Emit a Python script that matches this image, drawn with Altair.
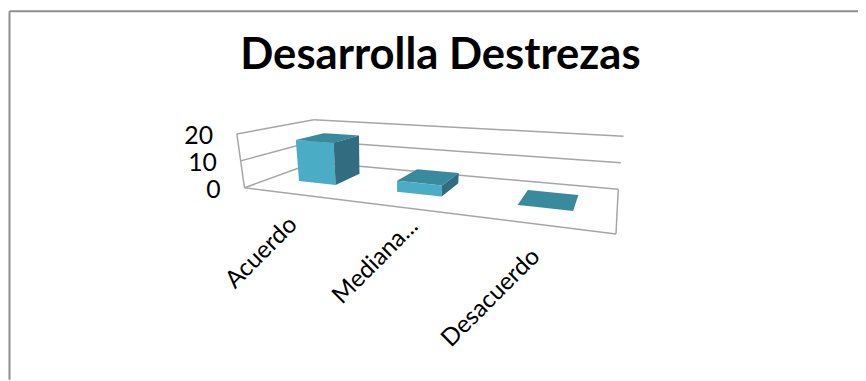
import altair as alt
import pandas as pd
import numpy as np

categories = ["Acuerdo", "Mediana...", "Desacuerdo"]
values = [16, 4, 0]
tick_values = [0, 10, 20]
title_text = "Desarrolla Destrezas"

FRONT, SIDE, TOP = "#4BACC6", "#316C80", "#3A8A9E"
GRID = "#A6A6A6"
FRAME = "#8E8E8E"
FONT = "Lato"

W, H = 857, 372
X0, Y0 = 9, 9
HMAX = 20

# perspective of the box: floor corners and wall height at each, in picture units
FL, FR, BR, BL = map(np.array, [(246.7, 187.7), (621.7, 234.3), (624.0, 189.3), (317.6, 162.0)])
UP_FL, UP_FR, UP_BR, UP_BL = map(np.array, [(-7.7, -54.3), (7.7, -65.0), (5.3, -53.6), (-0.9, -43.0)])


def homography(p0, p1, p2, p3):
    dx1, dy1 = p1 - p2
    dx2, dy2 = p3 - p2
    sx, sy = p0 - p1 + p2 - p3
    d = dx1 * dy2 - dx2 * dy1
    g = (sx * dy2 - dx2 * sy) / d
    h = (dx1 * sy - sx * dy1) / d
    return np.array([
        [p1[0] - p0[0] + g * p1[0], p3[0] - p0[0] + h * p3[0], p0[0]],
        [p1[1] - p0[1] + g * p1[1], p3[1] - p0[1] + h * p3[1], p0[1]],
        [g, h, 1.0],
    ])


M = homography(FL, FR, BR, BL)


def project(u, v, val=0.0):
    w = M @ np.array([u, v, 1.0])
    p = w[:2] / w[2]
    up = (1 - u) * (1 - v) * UP_FL + u * (1 - v) * UP_FR + u * v * UP_BR + (1 - u) * v * UP_BL
    return p + up * (val / HMAX)


def face_rows(name, color, pts):
    pts = [(float(p[0]), float(p[1])) for p in pts]
    xs = sorted({p[0] for p in pts})
    n = len(pts)
    rows = []
    for x in xs:
        ys = []
        for i in range(n):
            a, b = pts[i], pts[(i + 1) % n]
            lo, hi = min(a[0], b[0]), max(a[0], b[0])
            if lo <= x <= hi:
                if hi == lo:
                    ys += [a[1], b[1]]
                else:
                    ys.append(a[1] + (b[1] - a[1]) * (x - a[0]) / (b[0] - a[0]))
        rows.append(dict(face=name, part=color, x=x, y=min(ys), ylow=max(ys)))
    return rows


BAR_W, BAR_D0, BAR_D1 = 0.066, 0.34, 0.74
BAR_SHIFT = 0.005
face_data, line_data = [], []
n = len(categories)
for i, (c, val) in enumerate(zip(categories, values)):
    uc = (i + 0.5) / n + BAR_SHIFT
    u0, u1 = uc - BAR_W, uc + BAR_W
    f = [project(u0, BAR_D0, val), project(u1, BAR_D0, val), project(u1, BAR_D0), project(u0, BAR_D0)]
    s = [project(u1, BAR_D0, val), project(u1, BAR_D1, val), project(u1, BAR_D1), project(u1, BAR_D0)]
    t = [project(u0, BAR_D0, val), project(u1, BAR_D0, val), project(u1, BAR_D1, val), project(u0, BAR_D1, val)]
    if val > 0:
        face_data += face_rows(f"{c} front", "front", f)
        face_data += face_rows(f"{c} side", "side", s)
    face_data += face_rows(f"{c} top", "top", t)
faces = pd.DataFrame(face_data)


def add_line(name, a, b):
    line_data.extend([dict(line=name, x=float(a[0]), y=float(a[1]), k=0), dict(line=name, x=float(b[0]), y=float(b[1]), k=1)])


add_line("floor front", project(0, 0), project(1, 0))
add_line("floor right", project(1, 0), project(1, 1))
add_line("wall corner", project(0, 0, HMAX), project(0, 0))
for t_val in tick_values:
    add_line(f"left {t_val}", project(0, 0, t_val), project(0, 1, t_val))
    add_line(f"back {t_val}", project(0, 1, t_val), project(1, 1, t_val))
lines = pd.DataFrame(line_data)

ticks = pd.DataFrame([
    dict(label=str(t_val), x=float(project(0, 0, t_val)[0]) - 24, y=float(project(0, 0, t_val)[1]) + 2)
    for t_val in tick_values
])
# label placement nudges relative to the slot on the front edge
LABEL_NUDGE = [(-5, -6), (-8, -20), (-10, -5)]
cat_rows = []
for i, c in enumerate(categories):
    p = FL + (FR - FL) * (i + 0.5) / n
    dx, dy = LABEL_NUDGE[i]
    cat_rows.append(dict(label=c, x=float(p[0]) - 8 + dx, y=float(p[1]) + 32 + dy))
cats = pd.DataFrame(cat_rows)

xs = alt.Scale(domain=[X0, X0 + W], range=[0, W], nice=False, zero=False)
ys = alt.Scale(domain=[Y0, Y0 + H], range=[0, H], nice=False, zero=False)
frame_axis = dict(title=None, ticks=False, labels=False, grid=False, domainColor=FRAME, domainWidth=2)
X = alt.X("x:Q", scale=xs, axis=alt.Axis(orient="top", **frame_axis))
Y = alt.Y("y:Q", scale=ys, axis=alt.Axis(orient="left", **frame_axis))

grid = alt.Chart(lines).mark_line(color=GRID, strokeWidth=1.5).encode(x=X, y=Y, detail="line:N", order="k:Q")
bars = alt.Chart(faces).mark_area(orient="vertical", opacity=1).encode(
    x=X, y=Y, y2=alt.Y2("ylow"),
    color=alt.Color("part:N", scale=alt.Scale(domain=["front", "side", "top"], range=[FRONT, SIDE, TOP]), legend=None),
    detail="face:N",
)
tick_text = alt.Chart(ticks).mark_text(font=FONT, fontSize=25, align="right", baseline="middle", color="#000").encode(
    x=X, y=Y, text="label:N"
)
cat_text = alt.Chart(cats).mark_text(font=FONT, fontSize=24.5, align="right", baseline="middle", angle=315, color="#000").encode(
    x=X, y=Y, text="label:N"
)

chart = (grid + bars + tick_text + cat_text).properties(
    width=W, height=H, padding={"left": 1, "top": 1, "right": 0, "bottom": 0},
    autosize=alt.AutoSizeParams(type="none"),
    title=alt.TitleParams(title_text, font=FONT, fontSize=44, fontWeight="bold", color="#000",
                          anchor="middle", dx=7, offset=-68),
).configure_view(stroke=None)

chart.save("out.html", embed_options={"renderer": "svg", "actions": False})
